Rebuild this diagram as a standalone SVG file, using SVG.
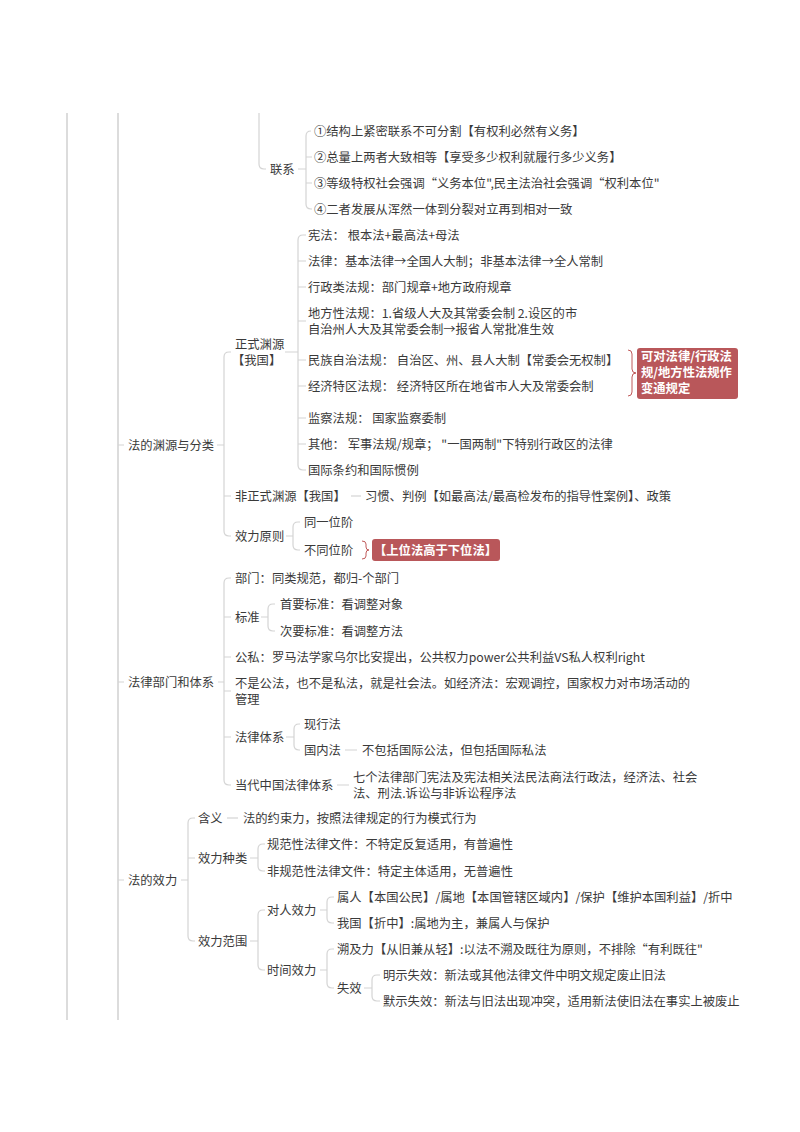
<svg xmlns="http://www.w3.org/2000/svg" width="800" height="1132" viewBox="0 0 800 1132">
<style>
text{font-family:"Noto Sans CJK SC","Liberation Sans",sans-serif;font-size:12.3px;fill:#3a3a3a}
.b{font-weight:bold;fill:#fff}
.ln{fill:none;stroke:#d4d4d4;stroke-width:1.2}
.main{fill:none;stroke:#dcdcdc;stroke-width:2}
.br{fill:none;stroke:#c05a5a;stroke-width:1}
.box{fill:#b9575a}
</style>
<rect width="800" height="1132" fill="#fff"/>
<g id="connectors">
<path class="main" d="M67 113V1020M118 113V1020"/>
<path class="ln" d="M259 113V164Q259 169 264 169H266"/>
<path class="ln" d="M298 169H306M311 131H311Q306 131 306 136V204Q306 209 311 209H312M306 157H312M306 183H312"/>
<path class="ln" d="M118 445H124M217 445H224M231 352H229Q224 352 224 357V531Q224 536 229 536H231M224 496H231"/>
<path class="ln" d="M285 352H298M306 235H303Q298 235 298 240V465Q298 470 303 470H306M298 261H306M298 287H306M298 321H306M298 360H306M298 386H306M298 418H306M298 444H306"/>
<path class="br" d="M628 350Q632 350 632 354V369Q632 373 636 373Q632 373 632 377V392Q632 396 628 396"/>
<path class="ln" d="M351 496H361"/>
<path class="ln" d="M286 536H293M300 522H298Q293 522 293 527V545Q293 550 298 550H300"/>
<path class="br" d="M362 541Q366 541 366 544V547Q366 550 369 550Q366 550 366 553V556Q366 559 362 559"/>
<path class="ln" d="M118 682H124M218 682H224M231 578H229Q224 578 224 583V780Q224 785 229 785H231M224 617H231M224 657H231M224 691H231M224 737H231"/>
<path class="ln" d="M261 617H268M275 604H273Q268 604 268 609V626Q268 631 273 631H275"/>
<path class="ln" d="M286 737H294M300 724H299Q294 724 294 729V745Q294 750 299 750H300"/>
<path class="ln" d="M345 750H357M337 785H349"/>
<path class="ln" d="M118 880H124M181 880H188M195 818H193Q188 818 188 823V936Q188 941 193 941H195M188 858H195"/>
<path class="ln" d="M227 818H238"/>
<path class="ln" d="M250 858H258M265 844H263Q258 844 258 849V866Q258 871 263 871H265"/>
<path class="ln" d="M250 941H258M265 910H263Q258 910 258 915V965Q258 970 263 970H265"/>
<path class="ln" d="M320 910H327M334 897H332Q327 897 327 902V918Q327 923 332 923H334"/>
<path class="ln" d="M320 970H327M334 949H332Q327 949 327 954V983Q327 988 332 988H334"/>
<path class="ln" d="M364 988H372M380 975H377Q372 975 372 980V996Q372 1001 377 1001H380"/>
</g>
<g id="n-lianxi"><text x="270" y="173.5">联系</text></g>
<g id="n-lx1"><text x="314" y="135.5">①结构上紧密联系不可分割【有权利必然有义务】</text></g>
<g id="n-lx2"><text x="314" y="161.5">②总量上两者大致相等【享受多少权利就履行多少义务】</text></g>
<g id="n-lx3"><text x="314" y="187.5">③等级特权社会强调“义务本位",民主法治社会强调“权利本位"</text></g>
<g id="n-lx4"><text x="314" y="213.5">④二者发展从浑然一体到分裂对立再到相对一致</text></g>

<g id="n-yuanyuan"><text x="128" y="449.5">法的渊源与分类</text></g>
<g id="n-zhengshi"><text x="235" y="348.5">正式渊源<tspan x="232" dy="16">【我国】</tspan></text></g>
<g id="n-xf"><text x="308" y="239.5">宪法：  根本法+最高法+母法</text></g>
<g id="n-fl"><text x="308" y="265.5">法律：基本法律→全国人大制；非基本法律→全人常制</text></g>
<g id="n-xz"><text x="308" y="291.5">行政类法规：部门规章+地方政府规章</text></g>
<g id="n-df"><text x="308" y="317.5">地方性法规：1.省级人大及其常委会制 2.设区的市<tspan x="308" dy="16">自治州人大及其常委会制→报省人常批准生效</tspan></text></g>
<g id="n-mz"><text x="308" y="364.5">民族自治法规：  自治区、州、县人大制【常委会无权制】</text></g>
<g id="n-jj"><text x="308" y="390.5">经济特区法规：  经济特区所在地省市人大及常委会制</text></g>
<g id="n-bt"><rect class="box" x="637" y="348" width="101" height="51" rx="3"/><text class="b" x="641" y="361">可对法律/行政法<tspan x="641" dy="16">规/地方性法规作</tspan><tspan x="641" dy="16">变通规定</tspan></text></g>
<g id="n-jc"><text x="308" y="422.5">监察法规：  国家监察委制</text></g>
<g id="n-qt"><text x="308" y="448.5">其他：  军事法规/规章；  "一国两制"下特别行政区的法律</text></g>
<g id="n-gj"><text x="308" y="474.5">国际条约和国际惯例</text></g>
<g id="n-fzs"><text x="235" y="500.5">非正式渊源【我国】</text></g>
<g id="n-fzs1"><text x="365" y="500.5">习惯、判例【如最高法/最高检发布的指导性案例】、政策</text></g>
<g id="n-xlyz"><text x="235" y="540.5">效力原则</text></g>
<g id="n-tyw"><text x="304" y="526.5">同一位阶</text></g>
<g id="n-btw"><text x="304" y="554.5">不同位阶</text></g>
<g id="n-swf"><rect class="box" x="372" y="539" width="128" height="22" rx="3"/><text class="b" x="374" y="554.5">【上位法高于下位法】</text></g>

<g id="n-bumen"><text x="128" y="686.5">法律部门和体系</text></g>
<g id="n-bm1"><text x="235" y="582.5">部门：同类规范，都归-个部门</text></g>
<g id="n-bz"><text x="235" y="621.5">标准</text></g>
<g id="n-bz1"><text x="280" y="608.5">首要标准：看调整对象</text></g>
<g id="n-bz2"><text x="280" y="635.5">次要标准：看调整方法</text></g>
<g id="n-gs"><text x="235" y="661.5">公私：罗马法学家乌尔比安提出，公共权力power公共利益VS私人权利right</text></g>
<g id="n-shf"><text x="235" y="687.5">不是公法，也不是私法，就是社会法。如经济法：宏观调控，国家权力对市场活动的<tspan x="235" dy="16">管理</tspan></text></g>
<g id="n-fltx"><text x="235" y="741.5">法律体系</text></g>
<g id="n-xxf"><text x="304" y="728.5">现行法</text></g>
<g id="n-gnf"><text x="304" y="754.5">国内法</text></g>
<g id="n-gnf1"><text x="362" y="754.5">不包括国际公法，但包括国际私法</text></g>
<g id="n-ddzg"><text x="235" y="789.5">当代中国法律体系</text></g>
<g id="n-ddzg1"><text x="353" y="781.5">七个法律部门宪法及宪法相关法民法商法行政法，经济法、社会<tspan x="353" dy="16">法、刑法.诉讼与非诉讼程序法</tspan></text></g>

<g id="n-xiaoli"><text x="128" y="884.5">法的效力</text></g>
<g id="n-hy"><text x="198" y="822.5">含义</text></g>
<g id="n-hy1"><text x="243" y="822.5">法的约束力，按照法律规定的行为模式行为</text></g>
<g id="n-xlzl"><text x="198" y="862.5">效力种类</text></g>
<g id="n-gf"><text x="267" y="848.5">规范性法律文件：不特定反复适用，有普遍性</text></g>
<g id="n-fgf"><text x="267" y="875.5">非规范性法律文件：特定主体适用，无普遍性</text></g>
<g id="n-xlfw"><text x="198" y="945.5">效力范围</text></g>
<g id="n-drxl"><text x="267" y="914.5">对人效力</text></g>
<g id="n-dr1"><text x="337" y="901.5">属人【本国公民】/属地【本国管辖区域内】/保护【维护本国利益】/折中</text></g>
<g id="n-dr2"><text x="337" y="927.5">我国【折中】:属地为主，兼属人与保护</text></g>
<g id="n-sjxl"><text x="267" y="974.5">时间效力</text></g>
<g id="n-sj1"><text x="337" y="953.5">溯及力【从旧兼从轻】:以法不溯及既往为原则，不排除“有利既往"</text></g>
<g id="n-sx"><text x="337" y="992.5">失效</text></g>
<g id="n-sx1"><text x="383" y="979.5">明示失效：新法或其他法律文件中明文规定废止旧法</text></g>
<g id="n-sx2"><text x="383" y="1005.5">默示失效：新法与旧法出现冲突，适用新法使旧法在事实上被废止</text></g>
</svg>
